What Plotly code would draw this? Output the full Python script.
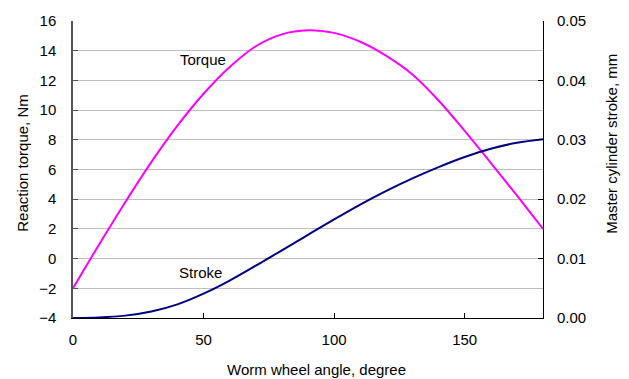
import plotly.graph_objects as go

angle = [0, 10, 20, 30, 40, 50, 60, 70, 80, 90, 100, 110, 120, 130, 140, 150, 160, 170, 180]
torque = [-2.0, 0.95, 3.8, 6.5, 8.95, 11.1, 12.9, 14.3, 15.1, 15.37, 15.2, 14.6, 13.65, 12.4, 10.65, 8.6, 6.45, 4.25, 2.0]
stroke = [0.0, 0.0001, 0.0004, 0.0011, 0.0023, 0.0041, 0.0063, 0.0088, 0.0114, 0.0140, 0.0166,
          0.0191, 0.0214, 0.0235, 0.0254, 0.0271, 0.0285, 0.0295, 0.0301]
left_ticks = [-4, -2, 0, 2, 4, 6, 8, 10, 12, 14, 16]
right_ticks = [0.00, 0.01, 0.02, 0.03, 0.04, 0.05]
x_ticks = [0, 50, 100, 150]

FONT = "Liberation Sans, Arial, sans-serif"

fig = go.Figure()
fig.add_trace(go.Scatter(x=angle, y=torque, mode="lines", line=dict(color="#FF00FF", width=2, shape="spline"),
                         name="Torque", yaxis="y"))
fig.add_trace(go.Scatter(x=angle, y=stroke, mode="lines", line=dict(color="#000080", width=2, shape="spline"),
                         name="Stroke", yaxis="y2"))

fig.update_layout(
    width=629, height=379,
    margin=dict(l=73, r=86, t=15, b=61),
    paper_bgcolor="white", plot_bgcolor="white",
    showlegend=False,
    font=dict(family=FONT, size=15, color="black"),
    xaxis=dict(range=[0, 180], tickvals=x_ticks, ticks="inside", ticklen=5, tickcolor="black",
               showline=True, linecolor="black", linewidth=1, showgrid=False, zeroline=False,
               ticklabelstandoff=8),
    yaxis=dict(range=[-4, 16], tickvals=left_ticks, ticks="inside", ticklen=5, tickcolor="#555555",
               showline=True, linecolor="#555555", linewidth=1.5, showgrid=True, gridcolor="#BEBEBE",
               gridwidth=1, zeroline=False, ticklabelstandoff=12),
    yaxis2=dict(range=[0, 0.05], tickvals=right_ticks, tickformat=".2f", overlaying="y", side="right",
                ticks="inside", ticklen=5, tickcolor="black", showline=True, linecolor="black", linewidth=1,
                showgrid=False, zeroline=False, ticklabelstandoff=10),
    annotations=[
        dict(text="Reaction torque, Nm", xref="paper", yref="paper", x=-0.1074, y=0.521, textangle=-90,
             showarrow=False, xanchor="center", yanchor="middle", font=dict(size=15)),
        dict(text="Master cylinder stroke, mm", xref="paper", yref="paper", x=1.147, y=0.587, textangle=-90,
             showarrow=False, xanchor="center", yanchor="middle", font=dict(size=15)),
        dict(text="Worm wheel angle, degree", xref="paper", yref="paper", x=0.518, y=-0.172,
             showarrow=False, xanchor="center", yanchor="middle", font=dict(size=15)),
        dict(text="Torque", xref="x", yref="y", x=49.7, y=13.38, showarrow=False, font=dict(size=15)),
        dict(text="Stroke", xref="x", yref="y", x=48.7, y=-0.94, showarrow=False, font=dict(size=15)),
    ],
)

fig.write_html("out.html")
